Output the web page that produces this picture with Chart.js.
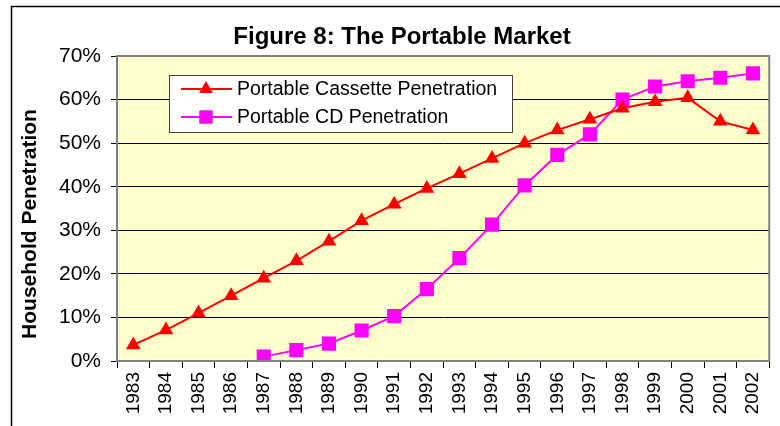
<!DOCTYPE html>
<html>
<head>
<meta charset="utf-8">
<script src="https://cdn.jsdelivr.net/npm/chart.js@4"></script>
<style>
  html, body { margin: 0; padding: 0; background: #fff; }
  #wrap { width: 780px; height: 426px; position: relative; }
</style>
</head>
<body>
<div id="wrap"><canvas id="chart" width="780" height="426"></canvas></div>
<script>
const years = ['1983', '1984', '1985', '1986', '1987', '1988', '1989', '1990', '1991', '1992',
               '1993', '1994', '1995', '1996', '1997', '1998', '1999', '2000', '2001', '2002'];
const cassette = [3.7, 7.1, 11, 15, 19, 23, 27.5, 32.2, 36, 39.6,
                  43, 46.5, 50, 53, 55.5, 58, 59.5, 60.4, 55, 53];
const cd = [null, null, null, null, 1, 2.5, 4, 7, 10.3, 16.5,
            23.6, 31.3, 40.3, 47.3, 52, 60, 63, 64.2, 65, 66];
const titleText = 'Figure 8: The Portable Market';
const yTitle = 'Household Penetration';

const FONT = '"Liberation Sans", Arial, sans-serif';

const frame = {
    id: 'frame',
    beforeDraw(chart) {
        const c = chart.ctx, a = chart.chartArea;
        c.save();
        c.fillStyle = '#fff';
        c.fillRect(0, 0, chart.width, chart.height);
        c.strokeStyle = '#000';
        c.lineWidth = 1.5;
        c.strokeRect(11.5, 6.5, 900, 600);
        c.fillStyle = '#FFFFCC';
        c.fillRect(a.left, a.top, a.right - a.left, a.bottom - a.top);
        c.restore();
    },
    afterDatasetsDraw(chart) {
        const c = chart.ctx, a = chart.chartArea;
        c.save();
        c.strokeStyle = '#808080';
        c.lineWidth = 2;
        c.strokeRect(a.left, a.top, a.right - a.left, a.bottom - a.top);
        c.restore();
    },
    afterDraw(chart) {
        const c = chart.ctx;
        c.save();
        // title
        c.fillStyle = '#000';
        c.font = 'bold 24px ' + FONT;
        c.textAlign = 'center';
        c.textBaseline = 'alphabetic';
        c.fillText(titleText, 402, 44);
        // y title
        c.textBaseline = 'middle';
        c.translate(30, 224);
        c.rotate(-Math.PI / 2);
        c.font = 'bold 21px ' + FONT;
        c.fillText(yTitle, 0, 0);
        c.restore();

        // legend box
        c.save();
        const bx = 169, by = 75, bw = 343, bh = 57;
        c.fillStyle = '#fff';
        c.fillRect(bx, by, bw, bh);
        c.strokeStyle = '#444';
        c.lineWidth = 1;
        c.strokeRect(bx + 0.5, by + 0.5, bw, bh);
        c.font = '19.5px ' + FONT;
        c.textAlign = 'left';
        c.textBaseline = 'middle';
        chart.data.datasets.forEach((ds, i) => {
            const y = by + 14 + i * 28;
            c.strokeStyle = ds.borderColor;
            c.lineWidth = 2;
            c.beginPath();
            c.moveTo(bx + 12, y);
            c.lineTo(bx + 63, y);
            c.stroke();
            Chart.helpers.drawPoint(c, {
                pointStyle: ds.pointStyle, radius: ds.pointStyle === 'rect' ? 9 : 8, borderWidth: 0
            }, bx + 37, y);
            c.fillStyle = ds.pointBackgroundColor;
            c.fill();
            c.fillStyle = '#000';
            c.fillText(ds.label, bx + 68, y + 1);
        });
        c.restore();
    }
};

new Chart(document.getElementById('chart'), {
    type: 'line',
    data: {
        labels: years,
        datasets: [{
            label: 'Portable Cassette Penetration',
            data: cassette,
            borderColor: '#FF0000',
            backgroundColor: '#FF0000',
            pointBackgroundColor: '#FF0000',
            pointBorderColor: '#FF0000',
            borderWidth: 2,
            pointStyle: 'triangle',
            pointRadius: 8.5,
            pointBorderWidth: 0,
            tension: 0
        }, {
            label: 'Portable CD Penetration',
            data: cd,
            borderColor: '#FF00FF',
            backgroundColor: '#FF00FF',
            pointBackgroundColor: '#FF00FF',
            pointBorderColor: '#FF00FF',
            borderWidth: 2,
            pointStyle: 'rect',
            pointRadius: 10,
            pointBorderWidth: 0,
            tension: 0
        }]
    },
    options: {
        responsive: false,
        animation: false,
        layout: { padding: { left: 0, right: 3, top: 56, bottom: 0 } },
        plugins: {
            legend: { display: false },
            title: { display: false },
            tooltip: { enabled: false }
        },
        scales: {
            x: {
                offset: true,
                grid: { display: true, drawOnChartArea: false, offset: true, color: '#000', tickLength: 7 },
                border: { color: '#808080', width: 2 },
                ticks: {
                    color: '#000',
                    font: { family: FONT, size: 19 },
                    minRotation: 90,
                    maxRotation: 90,
                    autoSkip: false,
                    padding: 4
                },
                afterFit(scale) { scale.height = 65; }
            },
            y: {
                min: 0,
                max: 70,
                grid: { color: '#000', lineWidth: 1, tickLength: 6 },
                border: { color: '#808080', width: 2 },
                ticks: {
                    stepSize: 10,
                    color: '#000',
                    font: { family: FONT, size: 21 },
                    padding: 10,
                    callback: v => v + '%'
                },
                afterFit(scale) { scale.width = 117; }
            }
        }
    },
    plugins: [frame]
});
</script>
</body>
</html>
